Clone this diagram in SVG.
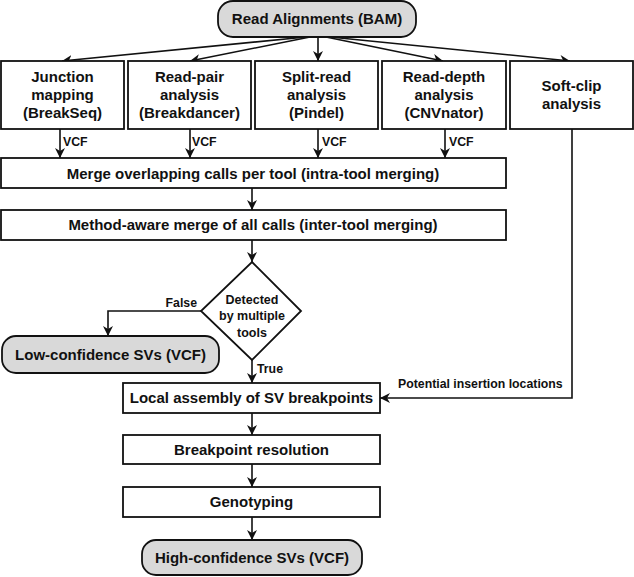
<svg xmlns="http://www.w3.org/2000/svg" width="634" height="577" viewBox="0 0 634 577">
<style>
.box{fill:#fff;stroke:#111;stroke-width:1.8}
.term{fill:#d9d9d9;stroke:#111;stroke-width:1.8}
.t{font-family:"Liberation Sans",Arial,sans-serif;font-weight:bold;font-size:15px;fill:#111;text-anchor:middle}
.s{font-family:"Liberation Sans",Arial,sans-serif;font-weight:bold;font-size:12.3px;fill:#111}
.c{fill:none;stroke:#111;stroke-width:1.6;marker-end:url(#ah)}
</style>
<defs>
<marker id="ah" viewBox="0 0 10 10" refX="10" refY="5" markerWidth="10" markerHeight="10" markerUnits="userSpaceOnUse" orient="auto">
<path d="M0,0 L10,5 L0,10 L3,5 z" fill="#111"/>
</marker>
</defs>
<g id="connectors">
<line class="c" x1="306" y1="37" x2="62" y2="61"/>
<line class="c" x1="310" y1="37" x2="190" y2="61"/>
<line class="c" x1="318" y1="37" x2="318" y2="61"/>
<line class="c" x1="326" y1="37" x2="443" y2="61"/>
<line class="c" x1="330" y1="37" x2="570" y2="61"/>
<line class="c" x1="60" y1="129" x2="60" y2="158"/>
<line class="c" x1="190" y1="129" x2="190" y2="158"/>
<line class="c" x1="318" y1="129" x2="318" y2="158"/>
<line class="c" x1="445" y1="129" x2="445" y2="158"/>
<text class="s" x="63" y="146">VCF</text>
<text class="s" x="192" y="146">VCF</text>
<text class="s" x="322" y="146">VCF</text>
<text class="s" x="449" y="146">VCF</text>
<line class="c" x1="252" y1="188" x2="252" y2="210"/>
<line class="c" x1="252" y1="240" x2="252" y2="262"/>
<polyline class="c" points="201,311 108,311 108,336"/>
<text class="s" x="197" y="307" text-anchor="end">False</text>
<line class="c" x1="252" y1="360" x2="252" y2="383"/>
<text class="s" x="257" y="373">True</text>
<polyline class="c" points="572,129 572,398 380,398"/>
<text class="s" x="398" y="388">Potential insertion locations</text>
<line class="c" x1="252" y1="413" x2="252" y2="435"/>
<line class="c" x1="252" y1="464" x2="252" y2="487"/>
<line class="c" x1="252" y1="517" x2="252" y2="540"/>
</g>
<g id="read-alignments">
<rect class="term" x="218" y="1" width="198" height="36" rx="15"/>
<text class="t" x="317" y="24">Read Alignments (BAM)</text>
</g>
<g id="junction-mapping">
<rect class="box" x="1" y="61" width="123" height="68"/>
<text class="t" x="62.5" y="82">Junction</text>
<text class="t" x="62.5" y="100">mapping</text>
<text class="t" x="62.5" y="118">(BreakSeq)</text>
</g>
<g id="read-pair">
<rect class="box" x="128" y="61" width="123" height="68"/>
<text class="t" x="189.5" y="82">Read-pair</text>
<text class="t" x="189.5" y="100">analysis</text>
<text class="t" x="189.5" y="118">(Breakdancer)</text>
</g>
<g id="split-read">
<rect class="box" x="255" y="61" width="123" height="68"/>
<text class="t" x="316.5" y="82">Split-read</text>
<text class="t" x="316.5" y="100">analysis</text>
<text class="t" x="316.5" y="118">(Pindel)</text>
</g>
<g id="read-depth">
<rect class="box" x="382" y="61" width="124" height="68"/>
<text class="t" x="444" y="82">Read-depth</text>
<text class="t" x="444" y="100">analysis</text>
<text class="t" x="444" y="118">(CNVnator)</text>
</g>
<g id="soft-clip">
<rect class="box" x="510" y="61" width="123" height="68"/>
<text class="t" x="571.5" y="91">Soft-clip</text>
<text class="t" x="571.5" y="109">analysis</text>
</g>
<g id="intra-merge">
<rect class="box" x="1" y="158" width="505" height="30"/>
<text class="t" x="253" y="179">Merge overlapping calls per tool (intra-tool merging)</text>
</g>
<g id="inter-merge">
<rect class="box" x="1" y="210" width="505" height="30"/>
<text class="t" x="253" y="230">Method-aware merge of all calls (inter-tool merging)</text>
</g>
<g id="decision">
<polygon class="box" points="252,262 301,311 252,360 201,311"/>
<text class="s" x="252" y="304" text-anchor="middle" style="font-size:12.5px">Detected</text>
<text class="s" x="252" y="320" text-anchor="middle" style="font-size:12.5px">by multiple</text>
<text class="s" x="252" y="337" text-anchor="middle" style="font-size:12.5px">tools</text>
</g>
<g id="low-confidence">
<rect class="term" x="2" y="336" width="217" height="37" rx="14"/>
<text class="t" x="110.5" y="360">Low-confidence SVs (VCF)</text>
</g>
<g id="local-assembly">
<rect class="box" x="123" y="383" width="257" height="30"/>
<text class="t" x="251.5" y="403">Local assembly of SV breakpoints</text>
</g>
<g id="breakpoint-resolution">
<rect class="box" x="123" y="435" width="257" height="29"/>
<text class="t" x="251.5" y="455">Breakpoint resolution</text>
</g>
<g id="genotyping">
<rect class="box" x="123" y="487" width="257" height="30"/>
<text class="t" x="251.5" y="507">Genotyping</text>
</g>
<g id="high-confidence">
<rect class="term" x="142" y="540" width="220" height="35" rx="14"/>
<text class="t" x="252" y="563">High-confidence SVs (VCF)</text>
</g>
</svg>
